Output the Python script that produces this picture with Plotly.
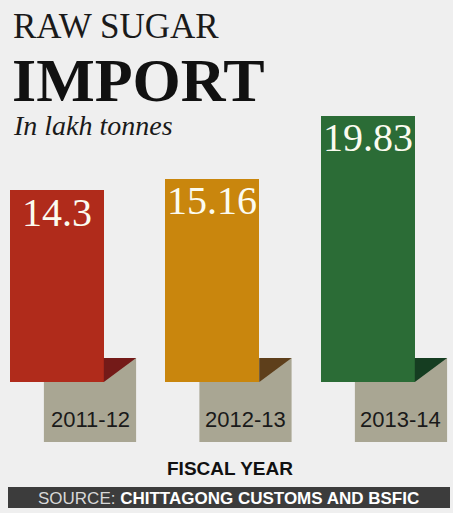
import plotly.graph_objects as go

# ---- data ----
years = ["2011-12", "2012-13", "2013-14"]
values = [14.3, 15.16, 19.83]
value_labels = ["14.3", "15.16", "19.83"]
bar_colors = ["#b02b1b", "#c9860d", "#2b6c36"]
fold_colors = ["#741a18", "#5e3f1b", "#153d21"]

W, H = 453, 513
M_T, M_B = 100, 53
PLOT_H = H - M_T - M_B
Y_RANGE = [-5.81, 21.01]
X_RANGE = [-0.3653, 2.548]

BG = "#efefef"
TAB = "#a9a693"

def py(p):
    # pixel y -> paper y
    return (H - M_B - p) / PLOT_H

def px(p):
    return p / W

fig = go.Figure()
xs = list(range(len(years)))
BW = 0.605
fig.add_trace(go.Bar(x=xs, y=values, width=BW, marker=dict(color=bar_colors, line=dict(width=0)),
                     hoverinfo="skip", showlegend=False))

shapes = []
ann = []
TAB_L, TAB_R = -0.083, 0.51
TAB_TOP, TAB_BOT = 1.79, -4.47
for i, (yr, v, lab) in enumerate(zip(years, values, value_labels)):
    shapes.append(dict(type="rect", xref="x", yref="y", x0=i + TAB_L, x1=i + TAB_R,
                       y0=TAB_BOT, y1=TAB_TOP, fillcolor=TAB, line=dict(width=0), layer="below"))
    xr = i + BW / 2
    shapes.append(dict(type="path", xref="x", yref="y",
                       path=f"M {xr} {TAB_TOP} L {i + TAB_R} {TAB_TOP} L {xr} 0 Z",
                       fillcolor=fold_colors[i], line=dict(width=0), layer="above"))
    ann.append(dict(x=i, y=v, xref="x", yref="y", text=lab, showarrow=False,
                    xanchor="center", yanchor="middle", yshift=-22,
                    font=dict(family="Liberation Serif", size=40, color="#fbfbf0")))
    ann.append(dict(x=i + (TAB_L + TAB_R) / 2, y=-2.76, xref="x", yref="y", text=yr,
                    showarrow=False, xanchor="center", yanchor="middle",
                    font=dict(family="Liberation Sans", size=22, color="#1a1a1a")))

# titles
ann.append(dict(x=px(11), y=py(26.5), xref="paper", yref="paper", text="RAW SUGAR", showarrow=False,
                xanchor="left", yanchor="middle",
                font=dict(family="Liberation Serif", size=35, color="#1a1a1a")))
ann.append(dict(x=px(10), y=py(80.5), xref="paper", yref="paper", text="<b>IMPORT</b>", showarrow=False,
                xanchor="left", yanchor="middle",
                font=dict(family="Liberation Serif", size=62, color="#111111")))
ann.append(dict(x=px(11), y=py(126), xref="paper", yref="paper", text="<i>In lakh tonnes</i>", showarrow=False,
                xanchor="left", yanchor="middle",
                font=dict(family="Liberation Serif", size=28, color="#1a1a1a")))
ann.append(dict(x=px(230), y=py(469), xref="paper", yref="paper", text="<b>FISCAL YEAR</b>", showarrow=False,
                xanchor="center", yanchor="middle",
                font=dict(family="Liberation Sans", size=19, color="#111111")))

shapes.append(dict(type="rect", xref="paper", yref="paper", x0=px(8), x1=px(450), y0=py(508), y1=py(487),
                   fillcolor="#3c3c3c", line=dict(width=0)))
ann.append(dict(x=px(228), y=py(498), xref="paper", yref="paper",
                text="<span style='color:#d8d8d8'>SOURCE: </span><b>CHITTAGONG CUSTOMS AND BSFIC</b>",
                showarrow=False, xanchor="center", yanchor="middle",
                font=dict(family="Liberation Sans", size=17, color="#ffffff")))

fig.update_layout(
    width=W, height=H, margin=dict(l=0, r=0, t=M_T, b=M_B),
    paper_bgcolor=BG, plot_bgcolor=BG,
    xaxis=dict(range=X_RANGE, visible=False, fixedrange=True),
    yaxis=dict(range=Y_RANGE, visible=False, fixedrange=True),
    shapes=shapes, annotations=ann, bargap=0,
)
fig.write_html("out.html", config={"displayModeBar": False},
               post_script="document.body.style.margin='0';document.body.style.overflow='hidden';")
